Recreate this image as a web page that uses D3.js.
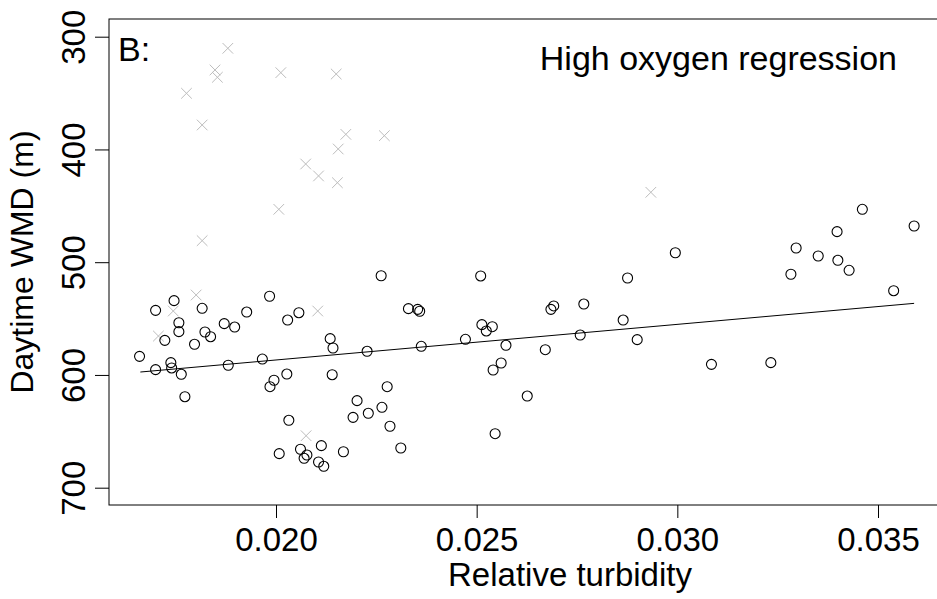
<!DOCTYPE html>
<html>
<head>
<meta charset="utf-8">
<script src="https://cdn.jsdelivr.net/npm/d3@7"></script>
<style>
  html, body { margin: 0; padding: 0; background: #fff; }
  svg { display: block; font-family: "Liberation Sans", Arial, sans-serif; }
</style>
</head>
<body>
<svg id="chart" width="937" height="599"></svg>
<script>
// ---- Data ----
const xTicks = [0.020, 0.025, 0.030, 0.035];
const yTicks = [300, 400, 500, 600, 700];

// High-oxygen observations (open circles)
const circleX = [
  0.02262, 0.01984, 0.01746, 0.01700, 0.01816, 0.01927, 0.02057, 0.02029, 0.01758, 0.01871,
  0.01897, 0.01758, 0.01823, 0.01837, 0.01723, 0.02135, 0.02142, 0.01797, 0.01660, 0.01966,
  0.02227, 0.01738, 0.01881, 0.01700, 0.01740, 0.01764, 0.02027, 0.02140, 0.01995, 0.01985,
  0.01773, 0.02277, 0.02202, 0.02264, 0.02230, 0.02192, 0.02284, 0.02032, 0.02311, 0.02113,
  0.02061, 0.02008, 0.02168, 0.02077, 0.02070, 0.02106, 0.02119,
  0.02510, 0.02995, 0.02876, 0.02330, 0.02353, 0.02358, 0.02685, 0.02692, 0.02767, 0.02513,
  0.02539, 0.02524, 0.02865, 0.02362, 0.02472, 0.02573, 0.02758, 0.02671, 0.02900, 0.02561,
  0.02541, 0.02626, 0.02546,
  0.03461, 0.03590, 0.03398, 0.03296, 0.03351, 0.03400, 0.03428, 0.03283, 0.03539,
  0.03085, 0.03233
];
const circleY = [
  512.0, 530.2, 534.1, 542.7, 540.9, 544.2, 544.8, 551.3, 553.7, 554.5,
  557.5, 561.6, 561.9, 566.1, 569.3, 567.8, 576.1, 572.8, 583.5, 585.9,
  579.0, 589.1, 591.4, 595.3, 593.8, 599.4, 599.2, 599.8, 604.7, 610.4,
  619.3, 610.4, 622.8, 628.7, 634.0, 637.6, 645.5, 640.2, 664.8, 662.7,
  665.9, 669.8, 668.1, 671.0, 673.9, 677.2, 681.0,
  512.2, 491.6, 514.0, 541.2, 541.8, 543.5, 541.8, 538.8, 537.1, 555.4,
  557.2, 561.0, 551.3, 574.6, 568.4, 573.7, 564.6, 577.6, 568.7, 589.4,
  595.6, 618.7, 652.1,
  453.1, 467.9, 472.9, 487.4, 494.5, 498.3, 507.2, 510.7, 525.3,
  590.6, 589.1
];

// Excluded observations (grey crosses)
const crossX = [
  0.01880, 0.01848, 0.01854, 0.02012, 0.02150, 0.01777, 0.01816, 0.02174, 0.02270, 0.02155,
  0.02074, 0.02106, 0.02153, 0.02007, 0.01816, 0.01801, 0.01744, 0.01707, 0.02104, 0.02075,
  0.02934
];
const crossY = [
  310.3, 329.5, 336.0, 331.9, 333.1, 350.2, 378.3, 386.6, 387.8, 399.6,
  412.9, 423.5, 429.5, 453.1, 480.9, 529.1, 543.3, 565.5, 543.3, 653.9,
  438.0
];

// Regression line end points
const lineX = [0.01662, 0.03590];
const lineY = [597.4, 536.5];

const panelLabel = "B:";
const titleText = "High oxygen regression";
const xLabel = "Relative turbidity";
const yLabel = "Daytime WMD (m)";

// ---- Drawing ----
const svg = d3.select("#chart");
svg.append("rect").attr("width", 937).attr("height", 599).attr("fill", "#fff");

const x = d3.scaleLinear().domain([0.020, 0.035]).range([276, 878]);
const y = d3.scaleLinear().domain([300, 700]).range([36.7, 487.7]);

const box = { left: 109, right: 945, top: 19, bottom: 505 };
const FS = 33;

// plot box
svg.append("rect")
  .attr("x", box.left).attr("y", box.top)
  .attr("width", box.right - box.left).attr("height", box.bottom - box.top)
  .attr("fill", "none").attr("stroke", "#000").attr("stroke-width", 1);

// x axis
const gx = svg.append("g").attr("transform", `translate(0,${box.bottom})`)
  .call(d3.axisBottom(x).tickValues(xTicks).tickFormat(d3.format(".3f"))
    .tickSize(13).tickPadding(10));
gx.select(".domain").remove();
gx.selectAll(".tick line").attr("stroke", "#000");
gx.selectAll(".tick text").attr("font-size", FS).attr("fill", "#000")
  .attr("font-family", "'Liberation Sans', Arial, sans-serif");

// y axis
const gy = svg.append("g").attr("transform", `translate(${box.left},0)`)
  .call(d3.axisLeft(y).tickValues(yTicks).tickFormat(d3.format("d")).tickSize(14));
gy.select(".domain").remove();
gy.selectAll(".tick line").attr("stroke", "#000");
gy.selectAll(".tick text")
  .attr("font-size", FS).attr("fill", "#000")
  .attr("font-family", "'Liberation Sans', Arial, sans-serif")
  .attr("x", 0).attr("y", 0).attr("dy", 0)
  .attr("text-anchor", "middle")
  .attr("transform", "translate(-24,0) rotate(-90)");

// axis titles
svg.append("text").attr("x", 570).attr("y", 586)
  .attr("text-anchor", "middle").attr("font-size", FS).attr("fill", "#000")
  .text(xLabel);
svg.append("text").attr("transform", "translate(33,262) rotate(-90)")
  .attr("text-anchor", "middle").attr("font-size", 32).attr("fill", "#000")
  .text(yLabel);

// panel label and title
svg.append("text").attr("x", 118).attr("y", 61)
  .attr("font-size", 34).attr("fill", "#000").text(panelLabel);
svg.append("text").attr("x", 897).attr("y", 70)
  .attr("text-anchor", "end").attr("font-size", 34).attr("fill", "#000")
  .text(titleText);

// crosses
const cs = 5.3;
svg.append("g").selectAll("path")
  .data(crossX.map((v, i) => [v, crossY[i]]))
  .join("path")
  .attr("transform", d => `translate(${x(d[0])},${y(d[1])})`)
  .attr("d", `M${-cs},${-cs}L${cs},${cs}M${-cs},${cs}L${cs},${-cs}`)
  .attr("stroke", "#bdbdbd").attr("stroke-width", 1).attr("fill", "none");

// circles
svg.append("g").selectAll("circle")
  .data(circleX.map((v, i) => [v, circleY[i]]))
  .join("circle")
  .attr("cx", d => x(d[0])).attr("cy", d => y(d[1])).attr("r", 5)
  .attr("fill", "none").attr("stroke", "#000").attr("stroke-width", 1.1);

// regression line
svg.append("path")
  .datum(lineX.map((v, i) => [v, lineY[i]]))
  .attr("d", d3.line().x(d => x(d[0])).y(d => y(d[1])))
  .attr("fill", "none").attr("stroke", "#000").attr("stroke-width", 1);
</script>
</body>
</html>
